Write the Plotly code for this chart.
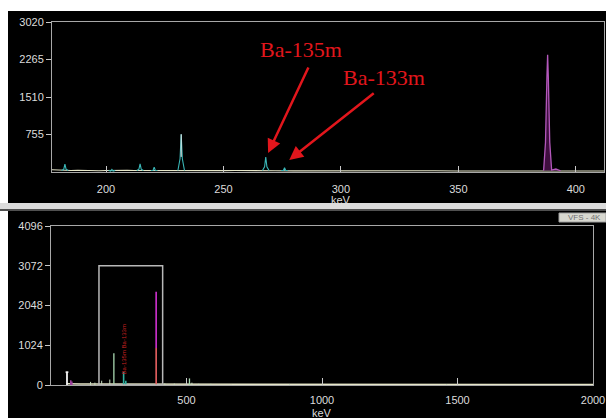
import plotly.graph_objects as go

W, H = 606, 418

# ---------------- data ----------------
# Top panel: zoomed spectrum 177-412 keV
top_base_keV = [177, 179, 181, 185, 188, 191, 194, 197, 200, 203, 206, 209, 212, 217, 222, 226,
                230, 235, 240, 245, 250, 255, 260, 264, 272, 280, 290, 300, 310, 320, 330, 340,
                350, 360, 370, 380, 385, 392, 396, 400, 405, 412]
top_base_counts = [45, 40, 38, 30, 35, 28, 32, 25, 30, 35, 28, 32, 30, 28, 35, 30,
                   32, 28, 30, 25, 28, 30, 25, 28, 25, 22, 25, 22, 25, 20, 22, 25,
                   20, 22, 20, 22, 20, 25, 22, 20, 18, 20]

# cyan peaks (centre keV, height counts, half width keV)
top_peak_keV = [182.5, 202.5, 214.5, 220.5, 232.0, 268.0, 276.0]
top_peak_counts = [160, 50, 165, 95, 760, 300, 85]
top_peak_halfwidth = [1.4, 1.4, 1.4, 1.4, 1.4, 1.4, 1.4]

# large purple peak in the top panel
top_big_keV = [386.3, 387.1, 387.7, 388.0, 388.3, 388.9, 389.7, 391.5, 393.5]
top_big_counts = [30, 600, 1900, 2360, 1900, 600, 40, 60, 25]

# Bottom panel: full spectrum 0-2000 keV
bot_base_keV = [59, 70, 90, 110, 130, 150, 170, 200, 230, 260, 300, 350, 400, 450, 500, 550,
                600, 700, 800, 900, 1000, 1200, 1400, 1600, 1800, 2000]
bot_base_counts = [35, 30, 28, 28, 25, 25, 25, 22, 22, 20, 20, 18, 18, 18, 18, 16,
                   16, 15, 15, 15, 15, 14, 14, 14, 14, 14]
bot_marker_keV = 59
bot_marker_counts = 330

bot_small_keV = [146, 162, 187, 217, 420, 455, 520, 545, 590, 880, 1460]
bot_small_counts = [80, 60, 110, 140, 40, 35, 60, 30, 30, 25, 25]
bot_magenta_keV = [73, 77]
bot_magenta_counts = [120, 90]
bot_green_keV = [232, 511]
bot_green_counts = [820, 170]
bot_cyan_keV = [268, 276]
bot_cyan_counts = [335, 110]
bot_big_keV = 388
bot_big_red_counts = 950
bot_big_top_counts = 2400

zoom_window_keV = [177, 412]
zoom_window_counts = 3072

top_yticks = [755, 1510, 2265, 3020]
top_xticks = [200, 250, 300, 350, 400]
bot_yticks = [0, 1024, 2048, 3072, 4096]
bot_xticks = [500, 1000, 1500, 2000]


def px(p):
    return p / W


def py(p):
    return 1 - p / H


def spikes(xs, ys):
    X, Y = [], []
    for x, y in zip(xs, ys):
        X += [x, x, None]
        Y += [0, y, None]
    return X, Y


def triangles(xs, ys, hw):
    X, Y = [], []
    for x, y, w in zip(xs, ys, hw):
        X += [x - w, x - w * 0.35, x, x + w * 0.35, x + w, None]
        Y += [30, y * 0.35, y, y * 0.35, 30, None]
    return X, Y


fig = go.Figure()

# ---- top panel traces ----
fig.add_trace(go.Scatter(x=top_base_keV, y=top_base_counts, mode="lines",
                         line=dict(color="#e6e6c8", width=1.2), xaxis="x", yaxis="y",
                         hoverinfo="skip"))
tx, ty = triangles(top_peak_keV, top_peak_counts, top_peak_halfwidth)
fig.add_trace(go.Scatter(x=tx, y=ty, mode="lines", line=dict(color="#3ab8b8", width=1.1),
                         xaxis="x", yaxis="y", hoverinfo="skip"))
# white tip on the tallest cyan peak
i232 = top_peak_keV.index(232.0)
fig.add_trace(go.Scatter(x=[top_peak_keV[i232], top_peak_keV[i232]],
                         y=[top_peak_counts[i232] * 0.4, top_peak_counts[i232]], mode="lines",
                         line=dict(color="#f0f0f0", width=1), xaxis="x", yaxis="y",
                         hoverinfo="skip"))
fig.add_trace(go.Scatter(x=top_big_keV, y=top_big_counts, mode="lines",
                         line=dict(color="#b458bc", width=1.3), fill="toself",
                         fillcolor="rgba(70,15,70,0.9)", xaxis="x", yaxis="y",
                         hoverinfo="skip"))

# ---- bottom panel traces ----
fig.add_trace(go.Scatter(x=bot_base_keV, y=bot_base_counts, mode="lines",
                         line=dict(color="#e6e6c8", width=1.5), xaxis="x2", yaxis="y2",
                         hoverinfo="skip"))
fig.add_trace(go.Scatter(x=[bot_marker_keV, bot_marker_keV, None, bot_marker_keV - 5, bot_marker_keV + 5],
                         y=[0, bot_marker_counts, None, bot_marker_counts, bot_marker_counts],
                         mode="lines", line=dict(color="#f4f4f4", width=1.8),
                         xaxis="x2", yaxis="y2", hoverinfo="skip"))
sx, sy = spikes(bot_small_keV, bot_small_counts)
fig.add_trace(go.Scatter(x=sx, y=sy, mode="lines", line=dict(color="#c8dcc0", width=1),
                         xaxis="x2", yaxis="y2", hoverinfo="skip"))
sx, sy = spikes(bot_magenta_keV, bot_magenta_counts)
fig.add_trace(go.Scatter(x=sx, y=sy, mode="lines", line=dict(color="#a040a0", width=1.5),
                         xaxis="x2", yaxis="y2", hoverinfo="skip"))
sx, sy = spikes(bot_green_keV, bot_green_counts)
fig.add_trace(go.Scatter(x=sx, y=sy, mode="lines", line=dict(color="#a8d8b0", width=1.3),
                         xaxis="x2", yaxis="y2", hoverinfo="skip"))
sx, sy = spikes(bot_cyan_keV, bot_cyan_counts)
fig.add_trace(go.Scatter(x=sx, y=sy, mode="lines", line=dict(color="#30b0a0", width=1.6),
                         xaxis="x2", yaxis="y2", hoverinfo="skip"))
fig.add_trace(go.Scatter(x=[bot_big_keV, bot_big_keV], y=[bot_big_red_counts, bot_big_top_counts],
                         mode="lines", line=dict(color="#d030d0", width=1.6),
                         xaxis="x2", yaxis="y2", hoverinfo="skip"))
fig.add_trace(go.Scatter(x=[bot_big_keV, bot_big_keV], y=[0, bot_big_red_counts],
                         mode="lines", line=dict(color="#e86060", width=1.6),
                         xaxis="x2", yaxis="y2", hoverinfo="skip"))

font_ax = dict(family="Liberation Sans, Arial, sans-serif", size=11, color="#dcdcdc")
axis_common = dict(showgrid=False, zeroline=False, showline=True, linecolor="#a8a8a8",
                   linewidth=1, mirror=True, tickfont=font_ax, tickcolor="#c8c8c8",
                   fixedrange=True, automargin=False)

shapes = [
    dict(type="rect", xref="paper", yref="paper", x0=px(8), x1=1, y0=py(203), y1=py(11),
         fillcolor="black", line=dict(width=0), layer="below"),
    dict(type="rect", xref="paper", yref="paper", x0=0, x1=1, y0=py(209), y1=py(203),
         fillcolor="#dcdcdc", line=dict(width=0), layer="below"),
    dict(type="rect", xref="paper", yref="paper", x0=0, x1=1, y0=py(211), y1=py(209),
         fillcolor="#505050", line=dict(width=0), layer="below"),
    dict(type="rect", xref="paper", yref="paper", x0=px(8), x1=1, y0=0, y1=py(211),
         fillcolor="black", line=dict(width=0), layer="below"),
    dict(type="rect", xref="x2", yref="y2", x0=zoom_window_keV[0], x1=zoom_window_keV[1],
         y0=0, y1=zoom_window_counts, line=dict(color="#b8b8b8", width=1.5)),
    dict(type="rect", xref="paper", yref="paper", x0=px(559), x1=1, y0=py(222), y1=py(213),
         fillcolor="#d8d8d0", line=dict(color="#a0a0a0", width=1)),
]

red = "#e2161c"
annotations = [
    dict(text="keV", xref="paper", yref="paper", x=px(341), y=py(200), showarrow=False,
         font=font_ax, xanchor="center", yanchor="middle"),
    dict(text="keV", xref="paper", yref="paper", x=px(322), y=py(412.5), showarrow=False,
         font=font_ax, xanchor="center", yanchor="middle"),
    dict(text="Ba-135m", xref="paper", yref="paper", x=px(301), y=py(50), showarrow=False,
         font=dict(family="Liberation Serif, Times New Roman, serif", size=22, color=red),
         xanchor="center", yanchor="middle"),
    dict(text="Ba-133m", xref="paper", yref="paper", x=px(384), y=py(77), showarrow=False,
         font=dict(family="Liberation Serif, Times New Roman, serif", size=22, color=red),
         xanchor="center", yanchor="middle"),
    dict(text="", xref="x", yref="y", x=269, y=382, ax=41, ay=-87, showarrow=True,
         arrowcolor=red, arrowwidth=2.5, arrowhead=2, arrowsize=1.1),
    dict(text="", xref="x", yref="y", x=278, y=242, ax=86, ay=-68, showarrow=True,
         arrowcolor=red, arrowwidth=2.5, arrowhead=2, arrowsize=1.1),
    dict(text="Ba-135m Ba-133m", xref="x2", yref="y2", x=269, y=914, textangle=-90,
         showarrow=False, font=dict(family="Liberation Sans, Arial", size=6, color="#c82020"),
         xanchor="center", yanchor="middle"),
    dict(text="VFS - 4K", xref="paper", yref="paper", x=px(584), y=py(217.5), showarrow=False,
         font=dict(family="Liberation Sans, Arial", size=8, color="#707070"),
         xanchor="center", yanchor="middle"),
]

fig.update_layout(
    template="none",
    width=W, height=H, margin=dict(l=0, r=0, t=0, b=0, pad=0, autoexpand=False),
    paper_bgcolor="white", plot_bgcolor="black", showlegend=False,
    xaxis=dict(domain=[px(52), px(604)], range=[177, 412], anchor="y",
               tickmode="array", tickvals=top_xticks, ticks="inside", ticklen=6,
               ticklabelstandoff=7, **axis_common),
    yaxis=dict(domain=[py(172), py(22)], range=[0, 3020], anchor="x",
               tickmode="array", tickvals=top_yticks, ticks="outside", ticklen=5,
               **axis_common),
    xaxis2=dict(domain=[px(51), px(593)], range=[0, 2000], anchor="y2",
                tickmode="array", tickvals=bot_xticks, ticks="inside", ticklen=7,
                ticklabelstandoff=5, **axis_common),
    yaxis2=dict(domain=[py(385), py(226)], range=[0, 4096], anchor="x2",
                tickmode="array", tickvals=bot_yticks, ticks="outside", ticklen=5,
                **axis_common),
    shapes=shapes, annotations=annotations,
)

fig.write_html("out.html")
